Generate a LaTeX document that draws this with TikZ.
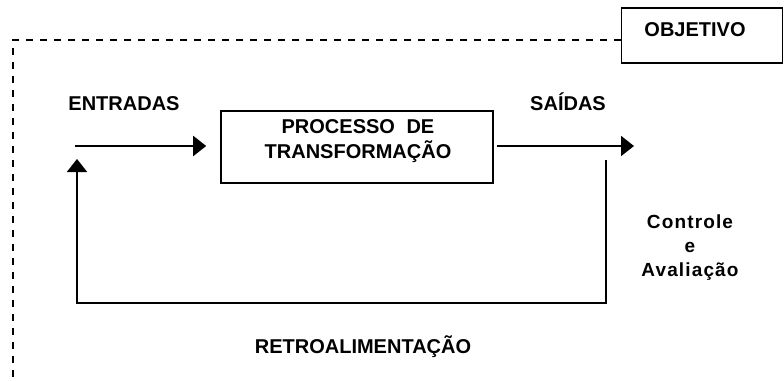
\documentclass[tikz,border=0pt]{standalone}
\usepackage{fontspec}
\setmainfont{Liberation Sans}
\usetikzlibrary{arrows.meta}

\begin{document}
\begin{tikzpicture}[x=1pt,y=-1pt,
  txt/.style={font=\fontsize{20}{25}\selectfont\bfseries, inner sep=0pt},
  box/.style={draw, line width=1.6pt, inner sep=0pt},
  flow/.style={line width=2pt, -{Triangle[length=13pt,width=20pt]}},
  dashline/.style={line width=2pt, dash pattern=on 7pt off 7pt}]
\useasboundingbox (0,0) rectangle (784,380);

% boxes
\node[box, minimum width=272pt, minimum height=72pt] (proc) at (357,147) {};
\node[txt, align=center] (proctext) at (358,141) {PROCESSO\hspace{6pt} DE\\TRANSFORMAÇÃO};
\node[box, minimum width=161pt, minimum height=55pt] (obj) at (702,35.5) {};
\node[txt] (objtext) at (695,30) {OBJETIVO};

% labels
\node[txt, anchor=base] (entradas) at (124,110) {ENTRADAS};
\node[txt, anchor=base] (saidas) at (568,110) {SAÍDAS};
\node[txt, anchor=base] (retro) at (363,353) {RETROALIMENTAÇÃO};
\node[txt, font=\fontsize{19}{24}\selectfont\bfseries\addfontfeature{LetterSpace=6}, align=center] (ctrl) at (690,248) {Controle\\e\\Avaliação};

% free ends
\coordinate (inStart) at (75,146);
\coordinate (outEnd) at (634,146);
\coordinate (fbTop) at (606,160);
\coordinate (fbBottom) at (606,303);
\coordinate (fbLeft) at (77,303);
\coordinate (fbEnd) at (77,159);
\coordinate (dashCorner) at (13,40);
\coordinate (dashEnd) at (13,380);

% flows
\draw[flow, shorten >=14pt] (inStart) -- (inStart -| proc.west);
\draw[flow, shorten <=3pt] (proc.east |- outEnd) -- (outEnd);
\draw[flow] (fbTop) -- (fbBottom) -- (fbLeft) -- (fbEnd);

% dashed border
\draw[dashline] (obj.west |- dashCorner) -- (dashCorner) -- (dashEnd);

\end{tikzpicture}
\end{document}
